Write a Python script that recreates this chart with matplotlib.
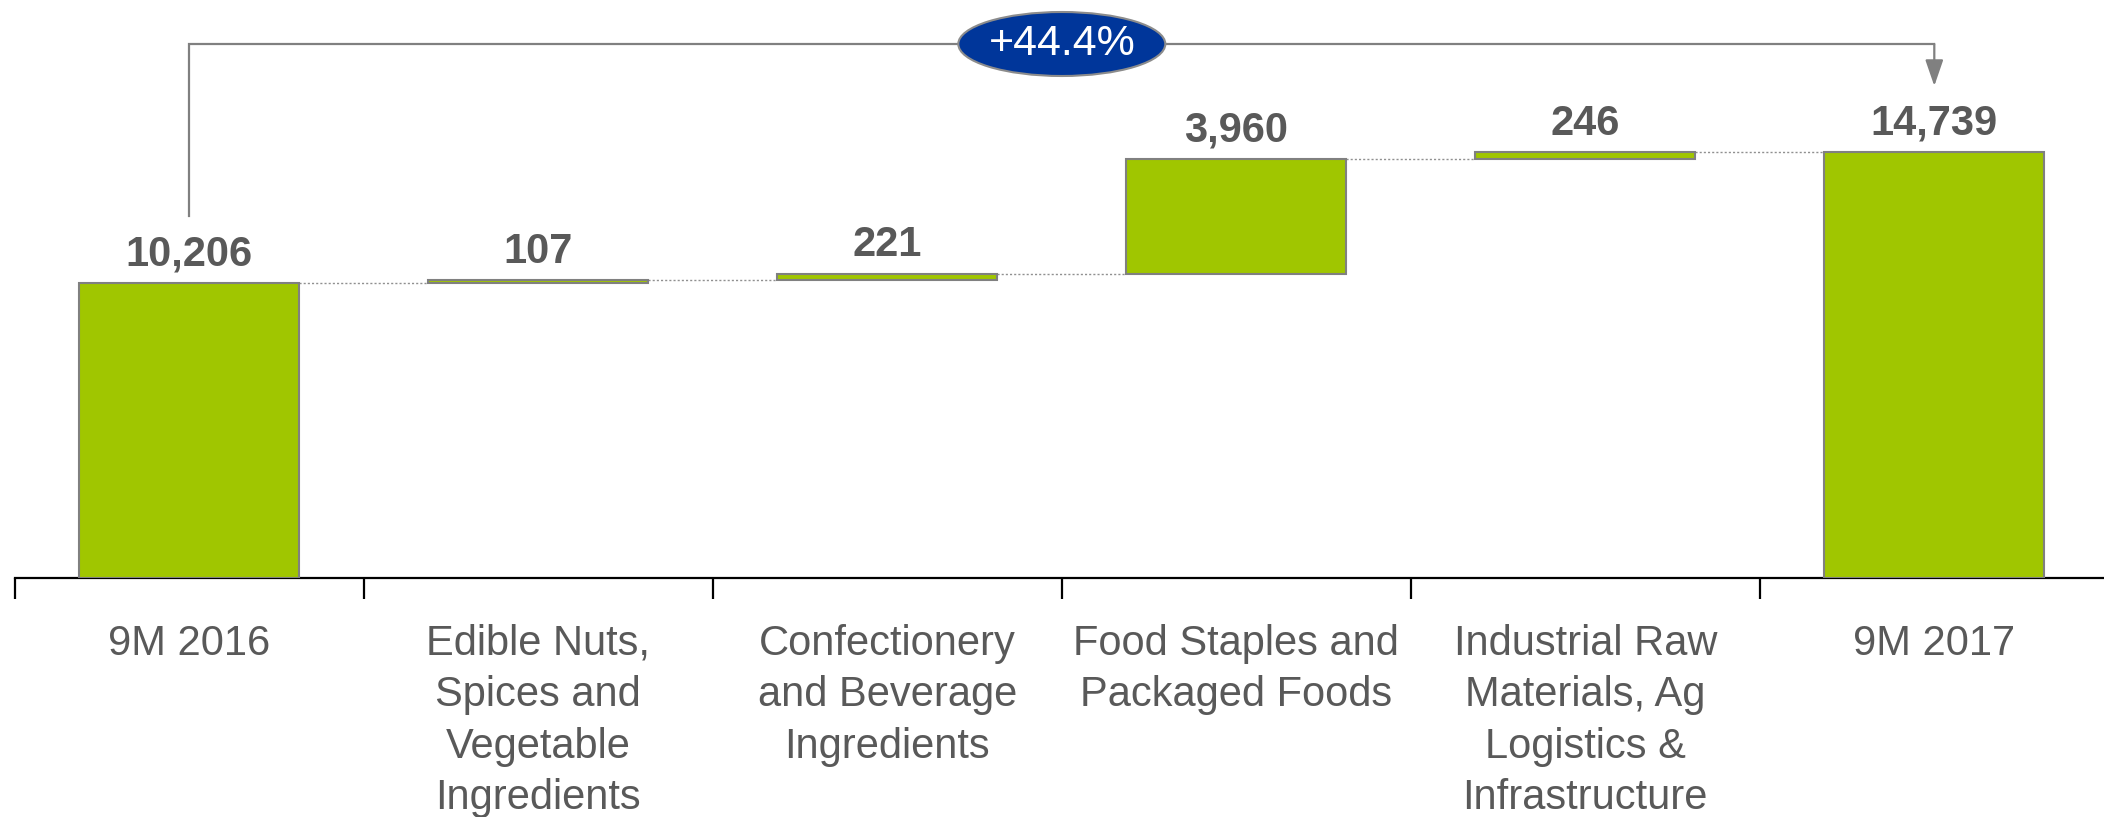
import matplotlib
matplotlib.use("Agg")
import matplotlib.pyplot as plt
from matplotlib.patches import Ellipse

categories = ["9M 2016",
              "Edible Nuts,\nSpices and\nVegetable\nIngredients",
              "Confectionery\nand Beverage\nIngredients",
              "Food Staples and\nPackaged Foods",
              "Industrial Raw\nMaterials, Ag\nLogistics &\nInfrastructure",
              "9M 2017"]
values = [10206, 107, 221, 3960, 246, 14739]
kinds = ["total", "delta", "delta", "delta", "delta", "total"]
value_labels = ["10,206", "107", "221", "3,960", "246", "14,739"]
growth_label = "+44.4%"

GREEN = "#A0C600"
EDGE = "#808080"
TXT = "#595959"
NAVY = "#00369A"

plt.rcParams['font.family'] = ['Liberation Sans', 'DejaVu Sans']

W, H = 2104, 817
fig = plt.figure(figsize=(W / 100, H / 100), dpi=100)
base_px = 578
left_px = 14.8
cat_px = 349
ax = fig.add_axes([left_px / W, (H - base_px) / H, 6 * cat_px / W, base_px / H])
ymax = 20000
ax.set_xlim(-0.5, 5.5)
ax.set_ylim(0, ymax)

bw = 0.63
running = 0
bottoms, tops = [], []
for i, (v, k) in enumerate(zip(values, kinds)):
    if k == "total":
        b = 0
        running = v
    else:
        b = running
        running = running + v
    bottoms.append(b)
    tops.append(b + v)
    ax.bar(i, v, bottom=b, width=bw, color=GREEN, edgecolor=EDGE, linewidth=1.5, zorder=3)

for i in range(len(values) - 1):
    lvl = tops[i]
    ax.plot([i + bw / 2, i + 1 - bw / 2], [lvl, lvl], color="#909090", lw=1.0,
            linestyle=(0, (1.5, 1.5)), zorder=2)

px_per_unit = base_px / ymax
for i, lab in enumerate(value_labels):
    ax.annotate(lab, (i, tops[i]), xytext=(0, 6), textcoords="offset points",
                ha="center", va="bottom", fontsize=30, fontweight="bold", color=TXT)

# bracket
y_br = (base_px - 44) / px_per_unit
y_left_bot = (base_px - 216) / px_per_unit
y_tip = (base_px - 86) / px_per_unit
ax.plot([0, 0, 5], [y_left_bot, y_br, y_br], color=EDGE, lw=1.6, clip_on=False,
        solid_joinstyle="miter", zorder=4)
ax.annotate("", xy=(5, y_tip), xytext=(5, y_br),
            arrowprops=dict(arrowstyle="-|>,head_length=1.6,head_width=0.55", color=EDGE,
                            lw=1.6, shrinkA=0, shrinkB=0), annotation_clip=False, zorder=4)
ell = Ellipse((2.5, y_br), width=207 / cat_px, height=64 / px_per_unit,
              facecolor=NAVY, edgecolor="#8c8c8c", lw=1.5, clip_on=False, zorder=5)
ax.add_patch(ell)
ax.text(2.5, y_br, growth_label, ha="center", va="center", fontsize=31, color="white",
        zorder=6, clip_on=False)

# axes styling
for s in ["top", "right", "left"]:
    ax.spines[s].set_visible(False)
ax.spines["bottom"].set_color("black")
ax.spines["bottom"].set_linewidth(1.6)
ax.set_yticks([])
ax.set_xticks([i - 0.5 for i in range(7)])
ax.set_xticklabels([])
ax.tick_params(axis="x", which="major", length=15, width=1.6, color="black", direction="out")
ax.set_xticks(range(6), minor=True)
ax.set_xticklabels(categories, minor=True, fontsize=30, color=TXT, linespacing=1.37)
ax.tick_params(axis="x", which="minor", length=0, pad=33)

fig.savefig("out.png", dpi=100)
